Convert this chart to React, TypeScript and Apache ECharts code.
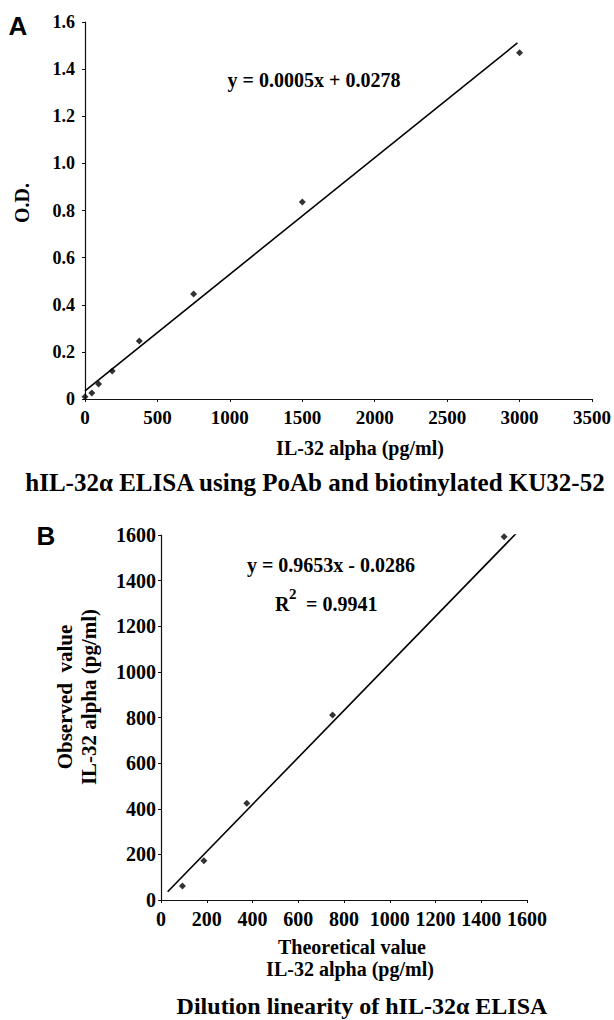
import React, { useEffect, useRef } from "react";
import * as echarts from "echarts";

// Panel A: standard curve
const concA = [0, 46.875, 93.75, 187.5, 375, 750, 1500, 3000];
const odA = [0.01, 0.025, 0.064, 0.119, 0.246, 0.446, 0.836, 1.469];
const fitAX = [0, 2985];
const fitAY = [0.035, 1.511];

// Panel B: dilution linearity
const theoreticalB = [93.75, 187.5, 375, 750, 1500];
const observedB = [61, 172, 424, 811, 1592];
const fitBX = [29, 1571];
const fitBY = [36, 1626];

const SERIF = '"Liberation Serif", "Times New Roman", serif';
const SANS = '"Liberation Sans", Arial, sans-serif';

function txt(text: string, x: number, y: number, size: number, opts: any = {}) {
  return {
    type: "text",
    x,
    y,
    rotation: opts.rotation || 0,
    silent: true,
    style: {
      text,
      font: `bold ${size}px ${opts.family || SERIF}`,
      fill: "#000",
      textAlign: opts.align || "center",
      textVerticalAlign: "middle",
    },
  };
}

export default function App() {
  const ref = useRef<HTMLDivElement>(null);
  useEffect(() => {
    document.body.style.margin = "0";
    const chart = echarts.init(ref.current!, undefined, { renderer: "svg" });
    const axisLine = { show: true, lineStyle: { color: "#111", width: 1.2 } };
    const axisTick = { show: true, length: 3, lineStyle: { color: "#111", width: 1 } };
    const fmtA = (v: number) => (v === 0 ? "0" : v.toFixed(1));
    const fmtInt = (v: number) => String(v);
    chart.setOption({
      animation: false,
      backgroundColor: "#fff",
      grid: [
        { left: 85, top: 22, width: 507, height: 377 },
        { left: 161, top: 535, width: 366, height: 365 },
      ],
      xAxis: [
        {
          gridIndex: 0, type: "value", min: 0, max: 3500, interval: 500,
          axisLine, axisTick, splitLine: { show: false },
          axisLabel: { margin: 9, formatter: fmtInt, fontFamily: SERIF, fontWeight: "bold", fontSize: 19, color: "#000" },
        },
        {
          gridIndex: 1, type: "value", min: 0, max: 1600, interval: 200,
          axisLine, axisTick, splitLine: { show: false },
          axisLabel: { margin: 9, formatter: fmtInt, fontFamily: SERIF, fontWeight: "bold", fontSize: 20, color: "#000" },
        },
      ],
      yAxis: [
        {
          gridIndex: 0, type: "value", min: 0, max: 1.6, interval: 0.2,
          axisLine, axisTick, splitLine: { show: false },
          axisLabel: { margin: 10, formatter: fmtA, fontFamily: SERIF, fontWeight: "bold", fontSize: 18, color: "#000" },
        },
        {
          gridIndex: 1, type: "value", min: 0, max: 1600, interval: 200,
          axisLine, axisTick, splitLine: { show: false },
          axisLabel: { margin: 5, formatter: fmtInt, fontFamily: SERIF, fontWeight: "bold", fontSize: 20, color: "#000" },
        },
      ],
      series: [
        {
          type: "line", xAxisIndex: 0, yAxisIndex: 0, showSymbol: false, silent: true,
          lineStyle: { color: "#000", width: 1.6 },
          data: fitAX.map((x, i) => [x, fitAY[i]]),
        },
        {
          type: "scatter", xAxisIndex: 0, yAxisIndex: 0, symbol: "diamond", symbolSize: 7,
          itemStyle: { color: "#000" },
          data: concA.map((x, i) => [x, odA[i]]),
        },
        {
          type: "line", xAxisIndex: 1, yAxisIndex: 1, showSymbol: false, silent: true,
          lineStyle: { color: "#000", width: 1.6 },
          data: fitBX.map((x, i) => [x, fitBY[i]]),
        },
        {
          type: "scatter", xAxisIndex: 1, yAxisIndex: 1, symbol: "diamond", symbolSize: 7,
          itemStyle: { color: "#000" },
          data: theoreticalB.map((x, i) => [x, observedB[i]]),
        },
      ],
      graphic: [
        txt("A", 18, 26, 26, { family: SANS }),
        txt("B", 46, 536, 26, { family: SANS }),
        txt("y = 0.0005x + 0.0278", 314, 80, 20),
        txt("O.D.", 22, 203, 20, { rotation: Math.PI / 2 }),
        txt("IL-32 alpha (pg/ml)", 360, 448, 20),
        txt("hIL-32\u03b1 ELISA using PoAb and biotinylated KU32-52", 315, 482, 25),
        txt("y = 0.9653x - 0.0286", 331, 565, 20),
        txt("R", 275, 604, 20, { align: "left" }),
        txt("2", 289, 594, 15, { align: "left" }),
        txt("= 0.9941", 306, 604, 20, { align: "left" }),
        txt("Observed  value", 65, 697, 21, { rotation: Math.PI / 2 }),
        txt("IL-32 alpha (pg/ml)", 89, 697, 21, { rotation: Math.PI / 2 }),
        txt("Theoretical value", 352, 947, 20),
        txt("IL-32 alpha (pg/ml)", 350, 969, 20),
        txt("Dilution linearity of hIL-32\u03b1 ELISA", 362, 1006, 24),
      ],
    });
    return () => chart.dispose();
  }, []);
  return <div ref={ref} style={{ width: 614, height: 1020 }} />;
}
